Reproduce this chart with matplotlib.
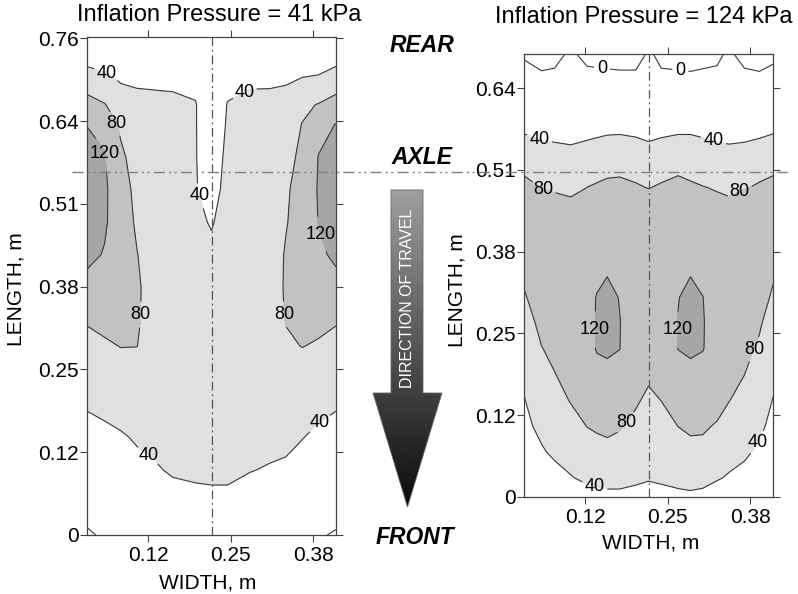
import matplotlib
matplotlib.use("Agg")
import matplotlib.pyplot as plt
import numpy as np
from matplotlib.patches import Polygon

plt.rcParams['font.family'] = ['Liberation Sans', 'DejaVu Sans']

# ---------------- data ----------------
TICK_VALUES = [0, 0.127, 0.254, 0.381, 0.508, 0.635, 0.762]
TICK_LABELS = ['0', '0.12', '0.25', '0.38', '0.51', '0.64', '0.76']
X_TICKS = [0.127, 0.254, 0.381]
X_TICK_LABELS = ['0.12', '0.25', '0.38']
CENTER_X = 0.2245

# 41 kPa panel: contact pressure (kPa) on a width x length grid
width_41 = [0.033, 0.060, 0.085, 0.110, 0.135, 0.165, 0.200, 0.2245,
            0.249, 0.284, 0.314, 0.339, 0.364, 0.389, 0.416]
length_41 = [0.00, 0.05, 0.10, 0.15, 0.20, 0.25, 0.29, 0.33, 0.38,
             0.43, 0.48, 0.53, 0.58, 0.63, 0.66, 0.70, 0.73, 0.762]
pressure_41 = [
    [-6, 6, 8, 10, 12, 14, 15, 16, 16, 13, 11, 9, 7, 4, -4],
    [20, 22, 24, 26, 28, 30, 31, 32, 32, 28, 26, 24, 22, 20, 20],
    [27, 30, 33, 35, 37, 43, 46, 47, 47, 41, 38, 36, 34, 30, 27],
    [32, 35, 38, 42, 46, 52, 52, 52, 52, 50, 48, 46, 40.5, 37, 32],
    [42, 45, 48, 52, 55, 57, 55, 54, 55, 56, 55, 54, 50, 44, 42],
    [55, 60, 65, 66, 60, 58, 56, 54, 55, 58, 60, 64, 64, 62, 55],
    [70, 75, 81, 80.5, 60, 58, 55, 54, 55, 58, 60, 74, 81, 76, 70],
    [83, 90, 92, 85, 62, 58, 55, 54, 55, 58, 62, 82, 92, 90, 83],
    [110, 105, 98, 86, 62, 58, 55, 54, 55, 58, 62, 84, 98, 105, 110],
    [128, 118, 100, 81, 62, 58, 55, 50, 55, 58, 62, 83, 100, 114, 126],
    [135, 124, 102, 74, 61, 58, 50, 36.5, 58, 59, 62, 78, 95, 121, 135],
    [138, 125, 100, 68, 60, 58, 43, 20, 56, 59, 61, 76, 92, 123, 138],
    [133, 122, 88, 62, 58, 58, 42, 15, 50, 58, 60, 70, 87, 121, 134],
    [119, 112, 72, 58, 56, 56, 42, 12, 44, 57, 58, 62, 81, 108, 121],
    [90, 82, 58, 52, 52, 50, 42, 10, 41.5, 52, 53, 55, 72, 82, 92],
    [65, 48, 36, 33, 31, 30, 30, 8, 30, 32, 32, 35, 41, 44, 62],
    [25, 24, 22, 22, 20, 20, 20, 6, 20, 20, 20, 22, 26, 24, 27],
    [15, 15, 15, 15, 14, 14, 14, 5, 14, 14, 14, 15, 15, 14, 15],
]

# 124 kPa panel
width_124 = [0.033, 0.060, 0.080, 0.105, 0.130, 0.145, 0.161, 0.180, 0.205,
             0.2245, 0.244, 0.270, 0.289, 0.308, 0.330, 0.348, 0.372, 0.395, 0.416]
length_124 = [0.00, 0.03, 0.07, 0.11, 0.15, 0.19, 0.23, 0.27, 0.31, 0.35,
              0.40, 0.45, 0.48, 0.51, 0.54, 0.57, 0.61, 0.65, 0.688]
pressure_124 = [
    [10, 14, 18, 22, 24, 25, 26, 26, 24, 22, 24, 26, 27, 26, 24, 22, 18, 14, 10],
    [18, 26, 30, 38, 48, 53, 60, 60, 50, 44, 48, 58, 66, 57, 43, 37, 31, 25, 18],
    [26, 37, 45, 56, 68, 72, 75, 72, 64, 57, 62, 70, 75, 74, 64, 52, 45, 35, 26],
    [33, 47, 58, 70, 80.5, 83, 84, 82, 74, 67, 72, 80.2, 83, 83, 78, 67, 58, 46, 32],
    [38.5, 58, 70, 81.5, 90, 95, 98, 95, 83, 75, 80.2, 93, 98, 96, 88, 81, 69, 56, 39],
    [46, 68, 79, 90, 98, 105, 110, 106, 92, 84, 90, 105, 110, 106, 97, 90, 80.2, 65, 46],
    [56, 79, 87, 97, 104, 123, 126, 120.5, 100, 94, 99, 120.5, 126, 121.5, 103, 97, 89, 75, 55],
    [66, 88, 95, 102, 105, 123.5, 131, 121, 104, 100, 104, 121, 131, 122, 105, 101, 96, 84, 64],
    [77, 95, 100, 104, 105, 122, 128, 119, 105, 103, 105, 119, 128, 120.5, 105, 103, 100, 92, 76],
    [86, 100, 103, 105, 105, 110, 118, 110, 105, 104, 105, 110, 118, 111, 105, 104, 102, 97, 84],
    [92, 100, 103, 105, 104, 104, 105, 104, 104, 104, 104, 104, 105, 104, 104, 104, 103, 100, 92],
    [92, 92, 92, 92, 92, 92, 92, 92, 92, 92, 92, 92, 92, 92, 92, 92, 92, 92, 92],
    [90, 79.6, 76.3, 69.5, 80.5, 82, 90, 90, 82, 79.6, 82, 90, 82, 82, 77, 70.8, 79.1, 82, 90],
    [74.2, 62, 60, 55, 65.5, 74.5, 70, 72.4, 74.5, 62, 74.5, 74.2, 76.5, 62, 62, 56, 60, 75.3, 74.2],
    [72, 47, 44.6, 42.4, 47, 52, 62, 66.3, 53.8, 45.3, 52, 66.3, 66.3, 52, 45.3, 42.9, 44.6, 50.5, 72],
    [32, 32, 32, 32, 32, 32, 32, 32, 32, 32, 32, 32, 32, 32, 32, 32, 32, 32, 32],
    [22, 22, 22, 22, 22, 22, 22, 22, 22, 22, 22, 22, 22, 22, 22, 22, 22, 22, 22],
    [32, 6.9, 11.6, 20, 16, 12.1, 9.8, 7.8, 14, 20, 9.5, 7.8, 6.1, 9.8, 11.1, 20, 11.6, 4.9, 16.5],
    [-10, -15, -16, 9, -16, -15, -15, -15, -27, 8, -13, -15, -15, -15, -10, 8, -16, -12, -12],
]

CONTOUR_LEVELS = [0, 40, 80, 120]
FILL_LEVELS = [-100, 40, 80, 120, 300]
FILL_COLORS = ['white', '#e0e0e0', '#c2c2c2', '#a6a6a6']

labels_41 = [(0.065, 0.712), (0.276, 0.678), (0.084, 0.635), (0.065, 0.586),
             (0.202, 0.519), (0.394, 0.462), (0.118, 0.338), (0.329, 0.338),
             (0.127, 0.122), (0.391, 0.171)]
labels_124 = [(0.153, 0.667), (0.274, 0.667), (0.058, 0.559), (0.325, 0.556),
              (0.065, 0.486), (0.366, 0.472), (0.142, 0.26), (0.270, 0.26),
              (0.385, 0.23), (0.189, 0.116), (0.392, 0.085), (0.143, 0.022)]

# ---------------- figure ----------------
W, H = 798, 594
fig = plt.figure(figsize=(W / 100, H / 100), dpi=100)


def panel(rect, xs, ys, zs, ytop, nyt, label_pos):
    ax = fig.add_axes(rect)
    Z = np.array(zs, dtype=float)
    ax.contourf(xs, ys, Z, levels=FILL_LEVELS, colors=FILL_COLORS)
    cs = ax.contour(xs, ys, Z, levels=CONTOUR_LEVELS, colors='#3a3a3a',
                    linewidths=0.8)
    ax.clabel(cs, fmt='%d', fontsize=13, inline=True, inline_spacing=3,
              manual=label_pos, colors='black')
    for t in cs.labelTexts:
        t.set_rotation(0)
    ax.axvline(CENTER_X, color='#555555', lw=0.9, dashes=(7, 3, 1.5, 3))
    ax.set_xlim(0.033, 0.416)
    ax.set_ylim(0, ytop)
    ax.set_xticks(X_TICKS)
    ax.set_xticklabels(X_TICK_LABELS)
    ax.set_yticks(TICK_VALUES[:nyt])
    ax.set_yticklabels(TICK_LABELS[:nyt])
    ax.tick_params(direction='out', length=5, width=0.8, top=True, right=True,
                   labelsize=15, color='#444444')
    ax.tick_params(axis='y', pad=1)
    ax.tick_params(axis='x', pad=3)
    for s in ax.spines.values():
        s.set_color('#444444')
        s.set_linewidth(0.9)
    return ax


ax1 = panel([87 / W, 1 - 535 / H, 249 / W, 498 / H], width_41, length_41,
            pressure_41, 0.764, 7, labels_41)
ax2 = panel([524 / W, 1 - 497 / H, 249 / W, 443 / H], width_124, length_124,
            pressure_124, 0.688, 6, labels_124)

# overlay in pixel coordinates
ov = fig.add_axes([0, 0, 1, 1], zorder=10)
ov.set_xlim(0, W)
ov.set_ylim(H, 0)
ov.axis('off')
ov.patch.set_alpha(0)

ov.text(219, 15, 'Inflation Pressure = 41 kPa', fontsize=17, ha='center', va='center')
ov.text(644, 17, 'Inflation Pressure = 124 kPa', fontsize=17, ha='center', va='center')
ov.text(16, 289, 'LENGTH, m', fontsize=15, rotation=90, ha='center', va='center')
ov.text(457, 290, 'LENGTH, m', fontsize=15, rotation=90, ha='center', va='center')
ov.text(208, 583, 'WIDTH, m', fontsize=15, ha='center', va='center')
ov.text(651, 543, 'WIDTH, m', fontsize=15, ha='center', va='center')

for txt, x, y in [('REAR', 422, 45), ('AXLE', 422, 157), ('FRONT', 415, 538)]:
    ov.text(x, y, txt, fontsize=16.5, fontweight='bold', fontstyle='italic',
            ha='center', va='center')

# axle line
ov.plot([72, 790], [172, 172], color='#808080', lw=1.0,
        dashes=(8, 3, 1.5, 2.5, 1.5, 3))

# direction arrow with gradient
arrow_pts = [(391, 190), (423, 190), (423, 393), (442, 393), (407.5, 507),
             (373, 393), (391, 393)]
poly = Polygon(arrow_pts, closed=True, facecolor='none', edgecolor='#666666',
               lw=0.6)
ov.add_patch(poly)
grad = np.linspace(0.62, 0.04, 256).reshape(-1, 1)
im = ov.imshow(grad, cmap='gray', vmin=0, vmax=1, aspect='auto',
               extent=(373, 442, 507, 190), origin='upper', interpolation='bilinear')
im.set_clip_path(poly)
ov.set_xlim(0, W)
ov.set_ylim(H, 0)
ov.text(407, 298, 'DIRECTION OF TRAVEL', fontsize=11.5, color='white',
        rotation=90, ha='center', va='center')

fig.savefig('out.png', dpi=100)
